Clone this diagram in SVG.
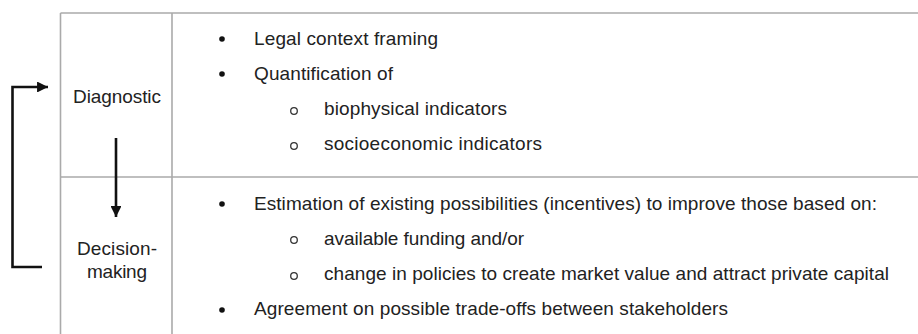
<svg xmlns="http://www.w3.org/2000/svg" width="918" height="334" viewBox="0 0 918 334">
<style>
text{font-family:"Liberation Sans",Arial,sans-serif;font-size:19px;fill:#222;}
.c{text-anchor:middle;}
.grid{stroke:#aaa;stroke-width:1.6;fill:none;}
.conn{stroke:#111;stroke-width:2.6;fill:none;}
.dot{fill:#111;}
.ring{fill:none;stroke:#333;stroke-width:1.3;}
</style>
<defs>
<marker id="ah" viewBox="0 0 10 10" refX="10" refY="5" markerWidth="4.2" markerHeight="4.2" markerUnits="strokeWidth" orient="auto">
<path d="M0,0 L10,5 L0,10 z" fill="#111"/>
</marker>
</defs>
<rect width="918" height="334" fill="#fff"/>
<g id="table">
<path class="grid" d="M60.5,13 H918 M60.5,13 V334 M172,13 V334 M60.5,177 H918"/>
</g>
<g id="diagnostic">
<text class="c" x="117" y="103" textLength="88">Diagnostic</text>
</g>
<g id="decision-making">
<text class="c" x="117" y="255" textLength="80">Decision-</text>
<text class="c" x="117" y="278" textLength="60">making</text>
</g>
<g id="diagnostic-content">
<circle class="dot" cx="222" cy="39" r="2.8"/>
<text x="254" y="45" textLength="184">Legal context framing</text>
<circle class="dot" cx="222" cy="74" r="2.8"/>
<text x="254" y="80" textLength="139">Quantification of</text>
<circle class="ring" cx="294" cy="111" r="3.3"/>
<text x="324" y="115" textLength="183">biophysical indicators</text>
<circle class="ring" cx="294" cy="146" r="3.3"/>
<text x="324" y="150" textLength="218">socioeconomic indicators</text>
</g>
<g id="decision-content">
<circle class="dot" cx="222" cy="204" r="2.8"/>
<text x="254" y="210" textLength="623">Estimation of existing possibilities (incentives) to improve those based on:</text>
<circle class="ring" cx="294" cy="240" r="3.3"/>
<text x="324" y="245" textLength="200">available funding and/or</text>
<circle class="ring" cx="294" cy="276" r="3.3"/>
<text x="324" y="280" textLength="565">change in policies to create market value and attract private capital</text>
<circle class="dot" cx="222" cy="310" r="2.8"/>
<text x="254" y="315" textLength="474">Agreement on possible trade-offs between stakeholders</text>
</g>
<g id="connectors">
<path class="conn" d="M42,267 H12.5 V87 H48" marker-end="url(#ah)"/>
<path class="conn" d="M116,138 V217" marker-end="url(#ah)"/>
</g>
</svg>
